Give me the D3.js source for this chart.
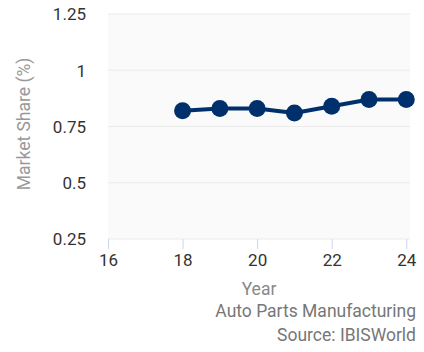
<!DOCTYPE html>
<html>
<head>
<meta charset="utf-8">
<script src="https://cdn.jsdelivr.net/npm/d3@7"></script>
<style>
  html, body { margin: 0; padding: 0; background: #ffffff; }
  svg { display: block; font-family: Roboto, "Noto Sans", sans-serif; }
</style>
</head>
<body>
<svg id="chart" width="424" height="352"></svg>
<script>
// Market share of Auto Parts Manufacturing by year (two-digit year)
const years = [18, 19, 20, 21, 22, 23, 24];
const shares = [0.82, 0.83, 0.83, 0.81, 0.84, 0.87, 0.87];
const yTicks = [0.25, 0.5, 0.75, 1, 1.25];
const xTicks = [16, 18, 20, 22, 24];

const svg = d3.select("#chart");
const plot = { left: 108, right: 410, top: 14, bottom: 239 };
const tickFont = 17;
const titleFont = 17.5;

const x = d3.scaleLinear().domain([16, 24.1]).range([plot.left, plot.right]);
const y = d3.scaleLinear().domain([0.25, 1.25]).range([plot.bottom, plot.top]);

// Plot background
svg.append("rect")
  .attr("x", plot.left).attr("y", plot.top)
  .attr("width", plot.right - plot.left).attr("height", plot.bottom - plot.top)
  .attr("fill", "#fafafa");

// Horizontal gridlines
svg.append("g").selectAll("line").data(yTicks).join("line")
  .attr("x1", plot.left).attr("x2", plot.right)
  .attr("y1", d => y(d)).attr("y2", d => y(d))
  .attr("stroke", "#ebebeb").attr("stroke-width", 1);

// Y axis labels
const yAxis = d3.axisLeft(y).tickValues(yTicks).tickSize(0).tickPadding(0)
  .tickFormat(d => d3.format("")(d));
const yg = svg.append("g").attr("transform", `translate(86,0)`).call(yAxis);
yg.select(".domain").remove();
yg.selectAll("text").attr("font-size", tickFont).attr("fill", "#333").attr("dy", "0.35em")
  .attr("font-family", "Roboto, sans-serif");

// X axis ticks and labels
const xAxis = d3.axisBottom(x).tickValues(xTicks).tickSize(10).tickPadding(5)
  .tickFormat(d3.format("d"));
const xg = svg.append("g").attr("transform", `translate(0,${plot.bottom})`).call(xAxis);
xg.select(".domain").remove();
xg.selectAll("line").attr("stroke", "#ccd6eb");
xg.selectAll("text").attr("font-size", tickFont).attr("fill", "#333")
  .attr("font-family", "Roboto, sans-serif");

// Axis titles
svg.append("text")
  .attr("transform", "translate(30,124) rotate(-90)")
  .attr("text-anchor", "middle")
  .attr("font-size", titleFont).attr("fill", "#999")
  .text("Market Share (%)");

svg.append("text")
  .attr("x", (plot.left + plot.right) / 2).attr("y", 295)
  .attr("text-anchor", "middle")
  .attr("font-size", titleFont).attr("fill", "#888")
  .text("Year");

// Credits
svg.append("text")
  .attr("x", 416).attr("y", 317)
  .attr("text-anchor", "end")
  .attr("font-size", titleFont).attr("fill", "#777")
  .text("Auto Parts Manufacturing");
svg.append("text")
  .attr("x", 416).attr("y", 341)
  .attr("text-anchor", "end")
  .attr("font-size", titleFont).attr("fill", "#777")
  .text("Source: IBISWorld");

// Series line and markers
const data = years.map((yr, i) => ({ yr, v: shares[i] }));
const navy = "#00306b";

svg.append("path")
  .datum(data)
  .attr("fill", "none")
  .attr("stroke", navy)
  .attr("stroke-width", 4)
  .attr("stroke-linejoin", "round")
  .attr("d", d3.line().x(d => x(d.yr)).y(d => y(d.v)));

svg.append("g").selectAll("circle").data(data).join("circle")
  .attr("cx", d => x(d.yr)).attr("cy", d => y(d.v))
  .attr("r", 8.5)
  .attr("fill", navy);
</script>
</body>
</html>
